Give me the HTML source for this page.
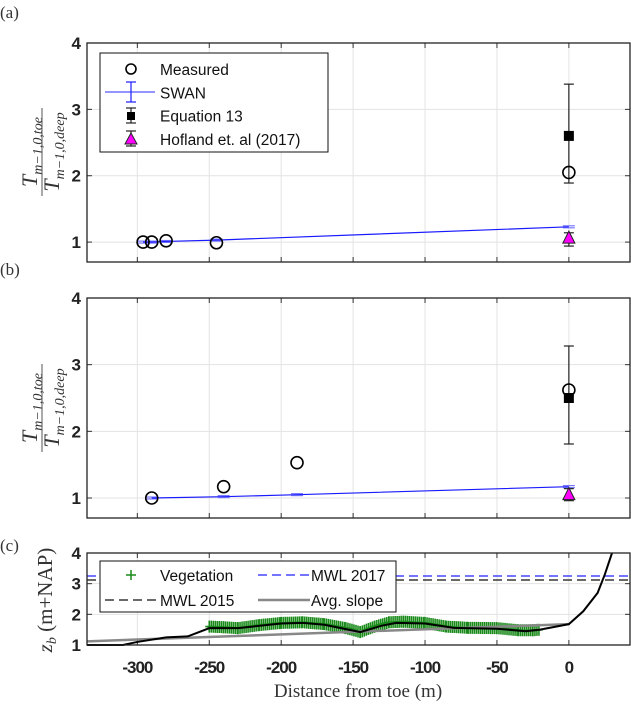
<!DOCTYPE html>
<html><head><meta charset="utf-8"><style>
body{margin:0;background:#fff}
svg{display:block}
.tk{font-family:"Liberation Sans",sans-serif;font-weight:bold;font-size:17px;fill:#222}
.lg{font-family:"Liberation Sans",sans-serif;font-size:15.5px;fill:#111}
.sf{font-family:"Liberation Serif",serif;fill:#333}
</style></head><body>
<svg id="c" width="631" height="705" viewBox="0 0 631 705" xmlns="http://www.w3.org/2000/svg">
<text class="sf" x="0" y="18" font-size="17">(a)</text>
<text class="sf" x="0" y="275" font-size="17">(b)</text>
<text class="sf" x="0" y="551" font-size="17">(c)</text>
<g transform="translate(42,152) rotate(-90)">
<text class="sf" x="0" y="-5" text-anchor="middle" font-size="22" font-style="italic" fill="#555">T<tspan font-size="14" dy="5">m−1,0,toe</tspan></text>
<line x1="-44" x2="44" y1="0" y2="0" stroke="#555" stroke-width="1"/>
<text class="sf" x="0" y="17" text-anchor="middle" font-size="22" font-style="italic" fill="#555">T<tspan font-size="14" dy="5">m−1,0,deep</tspan></text>
</g>
<g transform="translate(42,408) rotate(-90)">
<text class="sf" x="0" y="-5" text-anchor="middle" font-size="22" font-style="italic" fill="#555">T<tspan font-size="14" dy="5">m−1,0,toe</tspan></text>
<line x1="-44" x2="44" y1="0" y2="0" stroke="#555" stroke-width="1"/>
<text class="sf" x="0" y="17" text-anchor="middle" font-size="22" font-style="italic" fill="#555">T<tspan font-size="14" dy="5">m−1,0,deep</tspan></text>
</g>
<text class="sf" transform="translate(52,600) rotate(-90)" text-anchor="middle" font-size="21" fill="#555"><tspan font-style="italic">z</tspan><tspan font-size="14" font-style="italic" dy="4">b</tspan><tspan dy="-4"> (m+NAP)</tspan></text>
<text class="sf" x="358" y="697" text-anchor="middle" font-size="19">Distance from toe (m)</text>
</svg>
<script>
// Panel (a)
const measXa=[-296,-290,-280,-245,0];
const measYa=[1.0,1.0,1.02,0.99,2.05];
const swanXa=[-296,-290,-280,-245,0];
const swanYa=[1.0,1.0,1.01,1.03,1.23];
const eqA={x:0,y:2.6,lo:1.89,hi:3.38};
const hofA={x:0,y:1.06,lo:0.94,hi:1.14};
// Panel (b)
const measXb=[-290,-240,-189,0];
const measYb=[1.0,1.17,1.53,2.62];
const swanXb=[-290,-240,-189,0];
const swanYb=[1.0,1.02,1.05,1.17];
const eqB={x:0,y:2.5,lo:1.81,hi:3.28};
const hofB={x:0,y:1.05,lo:0.96,hi:1.14};
// Panel (c)
const bedX=[-335,-310,-300,-280,-265,-250,-230,-200,-185,-170,-145,-130,-120,-100,-80,-50,-30,-20,0,10,20,25,30];
const bedY=[1.0,1.0,1.1,1.25,1.28,1.55,1.55,1.7,1.72,1.66,1.42,1.63,1.72,1.7,1.56,1.53,1.45,1.5,1.68,2.1,2.7,3.3,4.0];
const vegX=[-250,-240,-230,-215,-200,-185,-170,-155,-145,-135,-125,-115,-100,-85,-70,-50,-35,-25,-20];
const vegY=[1.6,1.58,1.55,1.65,1.72,1.74,1.68,1.55,1.42,1.6,1.74,1.76,1.72,1.6,1.56,1.55,1.48,1.48,1.5];
const slopeX=[-335,0];
const slopeY=[1.12,1.68];
const mwl2017=3.25, mwl2015=3.12;
const xTicks=[-300,-250,-200,-150,-100,-50,0];
const xTickLabels=["-300","-250","-200","-150","-100","-50","0"];
const yTicks=[1,2,3,4];

const NS="http://www.w3.org/2000/svg";
const svg=document.getElementById('c');
function mk(tag,attrs,parent){const e=document.createElementNS(NS,tag);for(const k in attrs)e.setAttribute(k,attrs[k]);(parent||svg).appendChild(e);return e;}
const L=87,R=630,xmin=-335,xmax=42.5;
const sx=v=>L+(v-xmin)/(xmax-xmin)*(R-L);
function axes(top,bot,ymin,ymax,name){
  const g=mk('g',{});
  
  
  const sy=v=>bot-(v-ymin)/(ymax-ymin)*(bot-top);
  mk('rect',{x:L,y:top,width:R-L,height:bot-top,fill:'#fff'},g);
  xTicks.forEach(t=>{const l=mk('line',{x1:sx(t),x2:sx(t),y1:top,y2:bot,stroke:'#e3e3e3','stroke-width':1},g);
    
    mk('line',{x1:sx(t),x2:sx(t),y1:bot,y2:bot-5,stroke:'#333'},g);mk('line',{x1:sx(t),x2:sx(t),y1:top,y2:top+5,stroke:'#333'},g);});
  yTicks.forEach(t=>{const l=mk('line',{x1:L,x2:R,y1:sy(t),y2:sy(t),stroke:'#e3e3e3','stroke-width':1},g);
    
    mk('line',{x1:L,x2:L+5,y1:sy(t),y2:sy(t),stroke:'#333'},g);mk('line',{x1:R-5,x2:R,y1:sy(t),y2:sy(t),stroke:'#333'},g);
    const tx=mk('text',{x:81,y:sy(t)+6,'text-anchor':'end',class:'tk'},g);tx.textContent=t;
    });
  return {g,sy,top,bot};
}
function frame(a){mk('rect',{x:L,y:a.top,width:R-L,height:a.bot-a.top,fill:'none',stroke:'#222','stroke-width':1.3},a.g);}
function errbar(g,x,lo,hi,col){mk('line',{x1:x,x2:x,y1:lo,y2:hi,stroke:col,'stroke-width':1.2},g);
  mk('line',{x1:x-5,x2:x+5,y1:lo,y2:lo,stroke:col,'stroke-width':1.2},g);mk('line',{x1:x-5,x2:x+5,y1:hi,y2:hi,stroke:col,'stroke-width':1.2},g);}
function panel(top,bot,name,mx,my,swx,swy,eq,hof){
  const a=axes(top,bot,0.7,4,name);const g=a.g,sy=a.sy;
  const sl=mk('polyline',{points:swx.map((x,i)=>sx(x)+','+sy(swy[i])).join(' '),fill:'none',stroke:'#1a1aff','stroke-width':1.2},g);
  
  swx.forEach((x,i)=>{mk('line',{x1:sx(x)-6,x2:sx(x)+6,y1:sy(swy[i])-1,y2:sy(swy[i])-1,stroke:'#6060ff','stroke-width':1},g);mk('line',{x1:sx(x)-6,x2:sx(x)+6,y1:sy(swy[i])+1,y2:sy(swy[i])+1,stroke:'#6060ff','stroke-width':1},g);});
  errbar(g,sx(eq.x),sy(eq.lo),sy(eq.hi),'#222');
  const sq=mk('rect',{x:sx(eq.x)-5,y:sy(eq.y)-5,width:10,height:10,fill:'#000'},g);
  
  errbar(g,sx(hof.x),sy(hof.lo),sy(hof.hi),'#222');
  const hx=sx(hof.x),hy=sy(hof.y);
  const tr=mk('polygon',{points:`${hx},${hy-7} ${hx-6},${hy+5} ${hx+6},${hy+5}`,fill:'#ff00ff',stroke:'#222','stroke-width':1},g);
  
  mx.forEach((x,i)=>{const c=mk('circle',{cx:sx(x),cy:sy(my[i]),r:6,fill:'none',stroke:'#000','stroke-width':1.6},g);
    });
  frame(a);return a;
}
const A=panel(43,262,'panel-a-axes',measXa,measYa,swanXa,swanYa,eqA,hofA);
panel(298,518,'panel-b-axes',measXb,measYb,swanXb,swanYb,eqB,hofB);
// legend a
{const g=mk('g',{});
 mk('rect',{x:100,y:53,width:228,height:99,fill:'#fff',stroke:'#111','stroke-width':1},g);
 const rows=['Measured','SWAN','Equation 13','Hofland et. al (2017)'];
 rows.forEach((t,i)=>{const y=69+i*23.3;const tx=mk('text',{x:160,y:y+6,class:'lg'},g);tx.textContent=t;
   });
 mk('circle',{cx:131,cy:69,r:5,fill:'none',stroke:'#000','stroke-width':1.6},g);
 mk('line',{x1:105,x2:155,y1:92,y2:92,stroke:'#5555ff','stroke-width':1.2},g);errbar(g,131,102,82,'#1a1aff');
 errbar(g,131,123,108,'#222');mk('rect',{x:127,y:112,width:8,height:8,fill:'#000'},g);
 errbar(g,131,146,131,'#222');mk('polygon',{points:'131,133 125,144 137,144',fill:'#ff00ff',stroke:'#222'},g);
}
// panel c
{const a=axes(553,645,1,4,'panel-c-axes');const g=a.g,sy=a.sy;
 xTicks.forEach((t,i)=>{const tx=mk('text',{x:sx(t),y:673,'text-anchor':'middle',class:'tk','letter-spacing':'-1','font-size':'18'},g);tx.textContent=xTickLabels[i];
   });
 const m1=mk('line',{x1:L,x2:R,y1:sy(mwl2017),y2:sy(mwl2017),stroke:'#2222ff','stroke-width':1.2,'stroke-dasharray':'9,5'},g);
 
 const m2=mk('line',{x1:L,x2:R,y1:sy(mwl2015),y2:sy(mwl2015),stroke:'#111','stroke-width':1.2,'stroke-dasharray':'9,5'},g);
 
 const pts=[];for(let i=0;i<vegX.length-1;i++){for(let x=vegX[i];x<vegX[i+1];x+=1.4){const f=(x-vegX[i])/(vegX[i+1]-vegX[i]);pts.push([x,vegY[i]+f*(vegY[i+1]-vegY[i])]);}}
 const vg=mk('g',{},g);
 pts.forEach(p=>{const x=sx(p[0]),y=sy(p[1]);mk('path',{d:`M${x-4},${y}H${x+4}M${x},${y-6}V${y+6}`,stroke:'#1a8a1a','stroke-width':1.6},vg);});
 const sl=mk('polyline',{points:slopeX.map((x,i)=>sx(x)+','+sy(slopeY[i])).join(' '),fill:'none',stroke:'#888','stroke-width':2.5},g);
 
 const bl=mk('polyline',{points:bedX.map((x,i)=>sx(x)+','+sy(bedY[i])).join(' '),fill:'none',stroke:'#000','stroke-width':2},g);
 
 frame(a);
 const lg=mk('g',{});
 mk('rect',{x:100,y:561,width:296,height:51,fill:'#fff',stroke:'#111'},lg);
 mk('path',{d:'M126,575H136M131,570V580',stroke:'#1a8a1a','stroke-width':1.5},lg);
 mk('line',{x1:258,x2:310,y1:575,y2:575,stroke:'#2222ff','stroke-width':1.2,'stroke-dasharray':'9,5'},lg);
 mk('line',{x1:105,x2:158,y1:600,y2:600,stroke:'#111','stroke-width':1.2,'stroke-dasharray':'9,5'},lg);
 mk('line',{x1:258,x2:310,y1:600,y2:600,stroke:'#888','stroke-width':2.5},lg);
 [['Vegetation',160,575],['MWL 2017',311,575],['MWL 2015',160,600],['Avg. slope',311,600]].forEach(r=>{
   const tx=mk('text',{x:r[1],y:r[2]+6,class:'lg'},lg);tx.textContent=r[0];
   });
}
</script>
</body></html>
